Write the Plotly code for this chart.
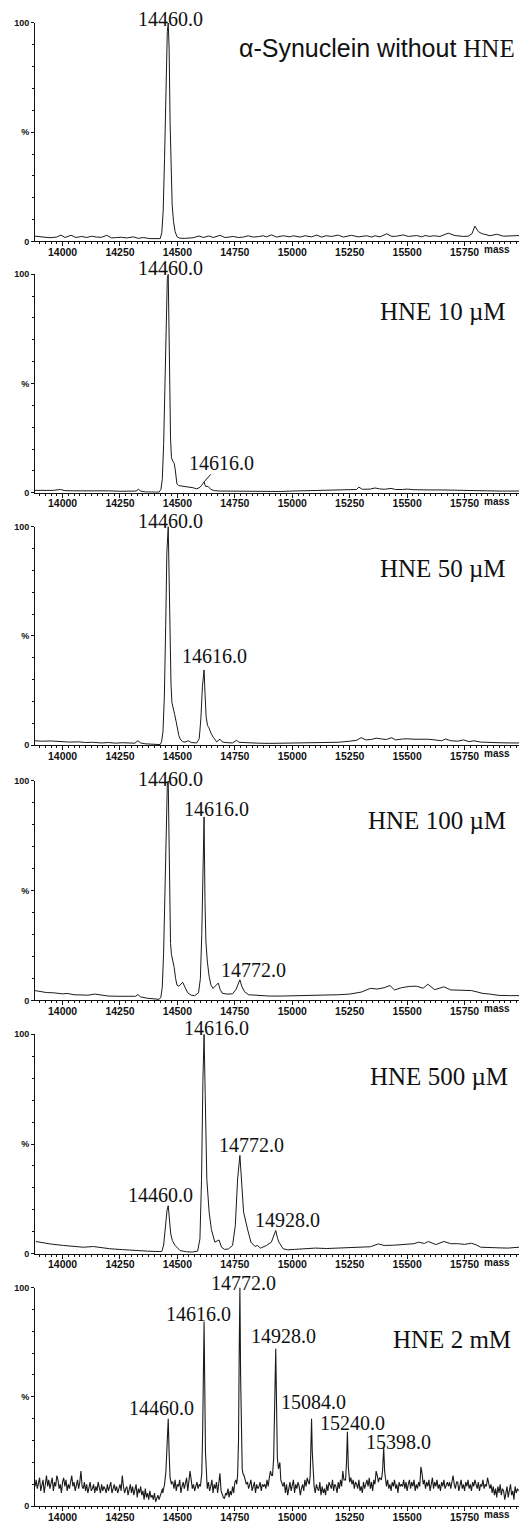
import plotly.graph_objects as go

# ---------------- spectra: (mass in Da, relative intensity in %) ----------------
spec_ctrl = [
    (13880, 2.4), (13916, 2.0), (13945, 1.7), (13974, 2.0), (13993, 2.9), (14010, 1.8), (14037, 2.8),
    (14058, 1.8), (14083, 2.3), (14105, 1.8), (14127, 2.4), (14148, 2.0), (14170, 1.9), (14192, 2.8),
    (14214, 1.6), (14236, 1.8), (14257, 1.9), (14279, 1.6), (14308, 2.1), (14330, 1.4), (14351, 1.8),
    (14380, 1.3), (14405, 1.4), (14418, 1.2),
    (14425, 1.3), (14432, 4), (14438, 14), (14444, 38), (14450, 72), (14456, 96), (14460, 100),
    (14464, 88), (14468, 55), (14472, 30), (14477, 17), (14483, 9), (14490, 4.5), (14498, 2.2), (14510, 1.5),
    (14530, 1.4), (14550, 1.6), (14569, 1.7), (14594, 2.5), (14613, 1.8), (14637, 2.5), (14656, 1.8),
    (14685, 2.8), (14707, 1.8), (14725, 2.0), (14743, 2.3), (14765, 1.8), (14787, 2.0), (14808, 2.6),
    (14830, 2.0), (14852, 2.2), (14874, 2.6), (14888, 2.1), (14910, 3.0), (14932, 2.0), (14961, 2.6),
    (14990, 2.1), (15004, 2.6), (15034, 2.0), (15055, 2.6), (15084, 2.1), (15106, 2.9), (15128, 2.0),
    (15147, 2.6), (15171, 2.3), (15200, 2.9), (15222, 2.0), (15240, 2.3), (15258, 2.8), (15287, 2.1),
    (15324, 2.6), (15346, 2.0), (15360, 2.6), (15382, 2.1), (15411, 3.5), (15433, 2.3), (15454, 2.4),
    (15483, 3.0), (15505, 2.3), (15542, 2.7), (15563, 2.1), (15578, 2.7), (15600, 2.3), (15614, 2.6),
    (15643, 2.3), (15679, 3.8), (15708, 2.7), (15744, 2.3), (15766, 2.4), (15782, 3.5), (15795, 7.0),
    (15810, 4.5), (15825, 3.6), (15861, 2.6), (15890, 3.3), (15919, 2.4), (15940, 2.5), (15970, 2.7),
    (15988, 2.7),
]

spec_hne10 = [
    (13880, 1.1), (13920, 1.0), (13960, 1.1), (13990, 1.5), (14010, 1.0), (14050, 0.9), (14100, 1.0),
    (14150, 0.8), (14200, 0.9), (14250, 0.7), (14300, 0.6), (14320, 0.8), (14330, 1.6), (14340, 0.8),
    (14360, 0.4), (14400, 0.3), (14420, 0.3), (14428, 1.5), (14434, 6), (14440, 22), (14446, 55),
    (14452, 88), (14456, 98), (14460, 100), (14464, 78), (14467, 48), (14470, 25), (14474, 16),
    (14480, 14.5), (14486, 13.5), (14490, 11), (14494, 6), (14498, 4), (14505, 3.3), (14540, 2.9),
    (14569, 2.3), (14584, 1.8), (14598, 2.5), (14606, 3.5), (14616, 5.0), (14622, 3.0), (14634, 2.9),
    (14645, 1.6), (14660, 1.0), (14685, 0.8), (14750, 0.7), (14800, 0.8), (14850, 0.6), (14900, 0.7),
    (14950, 0.6), (15000, 0.8), (15050, 0.9), (15100, 0.9), (15150, 1.0), (15200, 1.2), (15250, 1.4),
    (15280, 1.5), (15290, 2.6), (15305, 1.6), (15340, 1.7), (15360, 2.2), (15380, 1.8), (15400, 1.6),
    (15430, 2.0), (15450, 1.5), (15480, 1.5), (15500, 1.7), (15530, 1.4), (15560, 1.5), (15600, 1.3),
    (15650, 1.3), (15680, 1.2), (15700, 1.1), (15750, 1.1), (15800, 1.0), (15850, 0.9), (15900, 0.8),
    (15950, 0.9), (15988, 0.8),
]

spec_hne50 = [
    (13880, 2.0), (13910, 1.8), (13950, 1.9), (13980, 1.7), (14000, 1.5), (14030, 1.4), (14070, 1.5),
    (14100, 1.2), (14130, 1.3), (14170, 1.0), (14200, 1.2), (14230, 0.9), (14260, 1.1), (14290, 0.8),
    (14315, 0.9), (14328, 2.0), (14340, 1.0), (14360, 0.6), (14390, 0.3), (14415, 0.3),
    (14425, 0.3), (14431, 1.5), (14437, 6), (14443, 22), (14449, 55), (14454, 88), (14460, 100),
    (14464, 75), (14468, 45), (14472, 28), (14476, 19.5), (14482, 16), (14488, 14), (14494, 11),
    (14500, 7.5), (14506, 4.5), (14512, 2.8), (14522, 1.6), (14533, 1.4), (14547, 2.0), (14560, 1.2),
    (14584, 1.0), (14595, 3.0), (14602, 12), (14609, 27), (14616, 34.4), (14620, 24), (14625, 13),
    (14631, 9), (14637, 8), (14646, 5.5), (14656, 3.6), (14671, 1.5), (14685, 2.7), (14695, 1.5),
    (14707, 1.2), (14740, 1.0), (14758, 2.2), (14768, 1.3), (14780, 1.2),
    (14800, 1.0), (14850, 0.9), (14900, 0.8), (14950, 0.9), (15000, 0.9), (15050, 1.0), (15100, 1.1),
    (15150, 1.1), (15200, 1.3), (15250, 1.8), (15280, 2.2), (15300, 3.4), (15320, 2.4), (15345, 2.6),
    (15365, 3.2), (15390, 2.8), (15410, 2.6), (15432, 3.4), (15450, 2.4), (15480, 2.8), (15500, 2.9),
    (15530, 2.7), (15560, 2.8), (15590, 2.7), (15620, 2.4), (15650, 2.0), (15668, 2.8), (15690, 2.0),
    (15720, 1.8), (15745, 2.4), (15770, 1.6), (15790, 2.0), (15820, 1.4), (15850, 1.2), (15900, 1.1),
    (15950, 1.0), (15988, 1.0),
]

spec_hne100 = [
    (13880, 4.5), (13900, 4.0), (13930, 3.6), (13960, 3.5), (14000, 3.0), (14020, 3.2), (14050, 2.6),
    (14080, 2.5), (14110, 2.4), (14140, 2.9), (14170, 2.3), (14200, 2.0), (14240, 1.9), (14270, 1.8),
    (14300, 1.7), (14318, 1.9), (14328, 2.7), (14340, 1.6), (14370, 1.0), (14400, 0.6), (14420, 0.5),
    (14428, 1.5), (14434, 6), (14440, 22), (14446, 55), (14452, 88), (14456, 98), (14460, 100),
    (14464, 72), (14467, 40), (14470, 26), (14474, 21), (14480, 18), (14486, 15), (14492, 10),
    (14498, 7), (14506, 6.5), (14515, 7.5), (14523, 8.3), (14533, 6), (14545, 3.5), (14560, 2.4),
    (14575, 2.2), (14592, 3.5), (14600, 10), (14606, 30), (14611, 65), (14616, 83.6), (14620, 45),
    (14624, 27), (14630, 18), (14638, 11), (14646, 7), (14655, 5.5), (14664, 6.5), (14678, 7.9),
    (14686, 5), (14695, 3.3), (14715, 2.9), (14740, 3.0), (14755, 5), (14765, 8), (14772, 9.4),
    (14780, 6.5), (14792, 4), (14810, 2.6), (14850, 2.3),
    (14900, 2.0), (14950, 2.0), (15000, 2.1), (15050, 2.2), (15100, 2.2), (15150, 2.3), (15200, 2.6),
    (15250, 2.9), (15300, 3.8), (15340, 5.5), (15370, 5.2), (15400, 5.8), (15425, 6.8), (15445, 4.8),
    (15475, 5.8), (15510, 6.4), (15540, 6.5), (15570, 5.6), (15590, 7.4), (15620, 4.9), (15660, 6.2),
    (15690, 4.8), (15720, 4.7), (15750, 4.4), (15780, 4.5), (15800, 4.0), (15830, 3.2), (15860, 2.9),
    (15900, 2.3), (15950, 2.2), (15988, 2.2),
]

spec_hne500 = [
    (13884, 5.6), (13945, 4.5), (14003, 3.8), (14050, 3.3), (14090, 3.0), (14134, 3.3), (14163, 2.8),
    (14206, 2.3), (14260, 1.9), (14308, 1.5), (14370, 1.2), (14424, 1.0),
    (14432, 1.0), (14440, 4), (14448, 13), (14455, 20), (14460, 21.9), (14466, 14), (14471, 9),
    (14478, 6), (14490, 3.8), (14511, 1.5), (14540, 0.9), (14565, 0.8), (14588, 1.2),
    (14598, 6.8), (14601, 15), (14605, 34), (14611, 79), (14616, 100), (14621, 72), (14628, 34),
    (14638, 19), (14648, 11), (14663, 5.3), (14672, 5.8), (14681, 6.3), (14692, 3.0), (14705, 2.0),
    (14722, 2.2), (14740, 3.8), (14752, 12.8), (14762, 34), (14772, 44.8), (14779, 34), (14788, 19),
    (14805, 11.3), (14820, 5.3), (14838, 3.3), (14848, 3.8), (14862, 2.6), (14888, 3.8),
    (14909, 5.3), (14920, 9), (14928, 10.6), (14936, 7), (14942, 5.3), (14960, 2.3), (14980, 1.8),
    (15010, 2.0), (15060, 2.2), (15100, 2.6), (15150, 2.4), (15200, 2.6), (15250, 2.7), (15300, 3.0),
    (15340, 3.2), (15375, 4.5), (15400, 3.8), (15440, 3.9), (15470, 4.2), (15500, 4.5), (15530, 4.6),
    (15550, 5.3), (15575, 4.7), (15592, 5.6), (15625, 4.2), (15660, 5.6), (15690, 4.6), (15720, 4.6),
    (15750, 4.3), (15780, 4.8), (15800, 4.1), (15820, 3.0), (15850, 3.0), (15870, 2.8), (15900, 2.7),
    (15940, 2.6), (15988, 3.0),
]

# 2 mM sample: noisy baseline sampled every 5 Da from 13880 Da, plus the adduct peaks
noise_2mM_start = 13880
noise_2mM_step = 5
noise_2mM = [
    9, 12, 8, 11, 13, 7, 10, 12, 6, 11, 14, 9, 12, 8, 10, 13, 7, 11, 9, 14,
    12, 8, 10, 6, 11, 13, 9, 12, 7, 10, 8, 12, 14, 9, 11, 7, 10, 12, 8, 11,
    16, 9, 8, 11, 7, 10, 6, 9, 11, 7, 8, 10, 6, 9, 7, 11, 8, 6, 10, 7,
    9, 8, 6, 10, 7, 9, 11, 6, 8, 10, 7, 9, 6, 8, 10, 7, 14, 9, 6, 8,
    9, 5, 8, 10, 6, 9, 5, 7, 10, 4, 8, 6, 9, 5, 7, 3, 8, 4, 6, 3,
    7, 4, 5, 3, 6, 2, 4, 5, 3, 5, 6, 8, 7, 9, 10, 9, 10, 9, 10, 11,
    11, 8, 12, 7, 10, 9, 12, 6, 9, 11, 8, 10, 13, 7, 11, 16, 12, 8, 10, 7,
    9, 11, 8, 10, 6, 9, 11, 9, 13, 10, 8, 11, 7, 9, 12, 6, 10, 8, 11, 6,
    12, 15, 7, 5, 4, 3.5, 6, 5, 8, 4, 7, 5, 9, 6, 11, 12, 12, 12, 12, 12,
    13, 15, 14, 12, 10, 11, 8, 10, 12, 7, 9, 11, 6, 10, 8, 9, 11, 7, 10, 9,
    10, 8, 12, 9, 13, 16, 14, 14, 14, 14, 14, 14, 14, 20, 12, 10, 9, 11, 6, 10,
    5, 8, 11, 7, 9, 12, 6, 10, 8, 11, 9, 5, 8, 10, 7, 12, 9, 13, 11, 12,
    12, 12, 12, 9, 6, 10, 8, 7, 11, 5, 9, 6, 8, 5, 10, 7, 11, 9, 8, 12,
    7, 10, 9, 6, 11, 8, 12, 9, 16, 12, 12, 12, 12, 12, 11, 13, 10, 12, 8, 11,
    10, 8, 12, 7, 9, 6, 11, 8, 10, 12, 9, 13, 8, 11, 7, 12, 10, 16, 14, 11,
    13, 12, 12, 12, 12, 12, 9, 12, 8, 10, 7, 11, 9, 12, 8, 10, 6, 11, 9, 10,
    9, 12, 8, 11, 7, 10, 12, 8, 11, 9, 12, 7, 10, 8, 11, 9, 18, 15, 10, 12,
    8, 11, 9, 12, 7, 10, 13, 8, 11, 9, 12, 8, 10, 7, 11, 9, 12, 8, 10, 11,
    9, 11, 8, 12, 14, 10, 8, 11, 11, 7, 9, 12, 8, 10, 7, 11, 9, 12, 8, 10,
    7, 11, 9, 12, 10, 8, 11, 7, 10, 9, 12, 8, 10, 9, 13, 11, 8, 10, 6, 9,
    5, 8, 4, 9, 6, 10, 5, 8, 7, 3, 6, 9, 4, 8, 10, 5, 7, 3, 9, 6,
    8, 7,
]
peaks_2mM = [
    [(14436, 6), (14444, 10), (14450, 16), (14455, 28), (14460, 40), (14464, 24), (14468, 13), (14474, 10)],
    [(14600, 9), (14606, 15), (14610, 35), (14613, 65), (14616, 84.5), (14619, 55), (14622, 25), (14627, 14)],
    [(14758, 10), (14762, 14), (14766, 30), (14769, 70), (14772, 100), (14775, 60), (14778, 28), (14782, 17)],
    [(14914, 14), (14919, 22), (14923, 45), (14926, 62), (14928, 72), (14931, 50), (14935, 22), (14940, 17), (14946, 20)],
    [(15074, 10), (15078, 14), (15081, 28), (15084, 40), (15087, 25), (15091, 12)],
    [(15232, 12), (15236, 20), (15240, 34), (15244, 18), (15249, 13)],
    [(15388, 12), (15393, 16), (15398, 27), (15402, 16), (15407, 10)],
]

panel_titles = [
    '<span style="font-family:\'Liberation Sans\'">α-Synuclein without </span>HNE',
    "HNE 10 µM", "HNE 50 µM", "HNE 100 µM", "HNE 500 µM", "HNE 2 mM",
]
peak_labels = [
    [14460],
    [14460, 14616],
    [14460, 14616],
    [14460, 14616, 14772],
    [14460, 14616, 14772, 14928],
    [14460, 14616, 14772, 14928, 15084, 15240, 15398],
]
mass_ticks = [14000, 14250, 14500, 14750, 15000, 15250, 15500, 15750]


def merge_2mM():
    pts = [(noise_2mM_start + k * noise_2mM_step, v) for k, v in enumerate(noise_2mM)]
    for seg in peaks_2mM:
        lo, hi = seg[0][0], seg[-1][0]
        pts = [p for p in pts if not (lo <= p[0] <= hi)]
        pts += seg
    return sorted(pts)


spectra = [spec_ctrl, spec_hne10, spec_hne50, spec_hne100, spec_hne500, merge_2mM()]

# ---------------- layout geometry (pixels) ----------------
W, H = 530, 1531
PANEL_TOP = [18, 271, 525, 781, 1036, 1291]
PANEL_BOT = [238, 491, 745, 1002, 1257, 1511]
X_LEFT, X_RIGHT = 35, 519
MASS_RANGE = [13880, 15987]
TITLE_RIGHT = [517, 508, 508, 508, 510, 513]
TITLE_BASE = [53, 318, 576, 830, 1088, 1352]

# label offsets (dx, dy) in px: dx from peak centre, dy = baseline height above peak top
LABEL_OFFSETS = [
    [(2, -4)],
    [(2, -1), None],
    [(2, -2), (10, 6)],
    [(2, -6), (12, 0), (14, 2)],
    [(-8, 3), (12, -1), (12, 3), (12, 3)],
    [(-7, 3), (-6, 0), (4, -3), (8, 5), (2, 9), (5, 1), (15, -3)],
]
SERIF = "Liberation Serif"
SANS = "Liberation Sans"
INK = "#111111"
LABEL_SIZE = 20
LABEL_DESC = 0.216 * LABEL_SIZE

fig = go.Figure()
annotations = []

for i, spec in enumerate(spectra):
    n = "" if i == 0 else str(i + 1)
    xs = [p[0] for p in spec]
    ys = [p[1] for p in spec]
    fig.add_trace(go.Scatter(
        x=xs, y=ys, mode="lines", xaxis="x" + n, yaxis="y" + n,
        line=dict(color="#1a1a1a", width=1.1 if i == 5 else 1), showlegend=False, hoverinfo="skip",
    ))

    top, bot = PANEL_TOP[i], PANEL_BOT[i]
    fig.update_layout(**{
        "xaxis" + n: dict(
            domain=[X_LEFT / W, X_RIGHT / W], range=MASS_RANGE, anchor="y" + n,
            showline=True, linecolor=INK, linewidth=1, mirror=False,
            ticks="outside", ticklen=4, tickwidth=1, tickcolor=INK,
            tickmode="array", tickvals=mass_ticks, ticktext=[str(t) for t in mass_ticks],
            tickfont=dict(family=SANS, size=10.5, color=INK, weight="bold"),
            ticklabelstandoff=-3,
            showgrid=False, zeroline=False,
            minor=dict(tickmode="linear", tick0=14000, dtick=25, ticks="outside",
                       ticklen=2, tickwidth=1, tickcolor=INK, showgrid=False),
        ),
        "yaxis" + n: dict(
            domain=[1 - bot / H, 1 - top / H], range=[0, 100], anchor="x" + n,
            showline=True, linecolor=INK, linewidth=1,
            ticks="outside", ticklen=3, tickwidth=1, tickcolor=INK,
            tickmode="array", tickvals=[0, 50, 100], ticktext=["0", "%", "100"],
            tickfont=dict(family=SANS, size=9, color=INK, weight="bold"),
            showgrid=False, zeroline=False,
            minor=dict(tickmode="linear", tick0=0, dtick=10, ticks="outside",
                       ticklen=2, tickwidth=1, tickcolor=INK, showgrid=False),
        ),
    })

    # panel title
    annotations.append(dict(
        text=panel_titles[i], xref="paper", yref="paper",
        x=TITLE_RIGHT[i] / W, y=1 - TITLE_BASE[i] / H, xanchor="right", yanchor="bottom",
        yshift=-(0.216 * 25 + 1), showarrow=False,
        font=dict(family=SERIF, size=25, color=INK),
    ))

    # "mass" axis caption
    annotations.append(dict(
        text="mass", xref="paper", yref="paper", x=497 / W, y=1 - (bot + 2) / H,
        xanchor="center", yanchor="top", showarrow=False, borderpad=0,
        font=dict(family=SANS, size=10, color=INK, weight="bold"),
    ))

    # peak mass labels
    lookup = dict(spec)
    for m, off in zip(peak_labels[i], LABEL_OFFSETS[i]):
        h = lookup[m]
        if off is None:
            # small peak labelled through a short leader line
            annotations.append(dict(
                text=f"{m:.1f}", x=m, y=h, xref="x" + n, yref="y" + n,
                showarrow=True, arrowhead=0, arrowwidth=1, arrowcolor=INK,
                ax=17, ay=-19, borderpad=0,
                font=dict(family=SERIF, size=LABEL_SIZE, color=INK),
            ))
        else:
            dx, dy = off
            annotations.append(dict(
                text=f"{m:.1f}", x=m, y=h, xref="x" + n, yref="y" + n,
                xanchor="center", yanchor="bottom", xshift=dx, yshift=dy - LABEL_DESC,
                showarrow=False, borderpad=0,
                font=dict(family=SERIF, size=LABEL_SIZE, color=INK),
            ))

fig.update_layout(
    width=W, height=H, margin=dict(l=0, r=0, t=0, b=0),
    paper_bgcolor="white", plot_bgcolor="white",
    annotations=annotations, showlegend=False,
)

fig.write_html("out.html", config={"displayModeBar": False})
